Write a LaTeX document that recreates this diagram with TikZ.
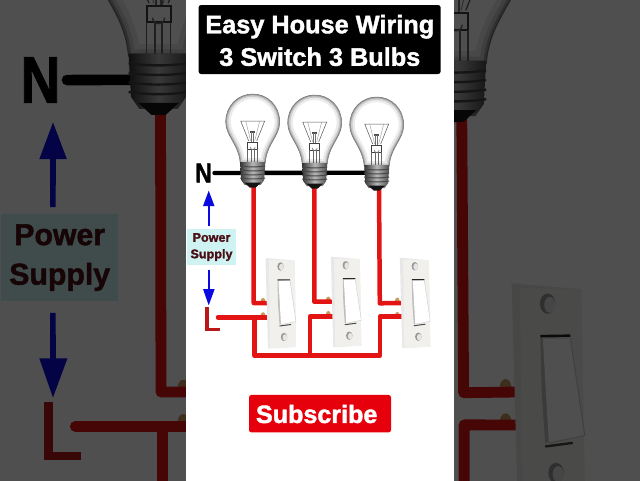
\documentclass[tikz,border=0pt]{standalone}
\usepackage{fontspec}
\setmainfont{Liberation Sans}
\newfontfamily\heavyfont[FakeBold=1.6]{Liberation Sans Bold}
\definecolor{wire}{HTML}{E21414}
\definecolor{lwire}{HTML}{B81818}
\definecolor{btnred}{HTML}{E6000C}
\definecolor{arrowblue}{HTML}{0A0AE0}
\definecolor{boxcyan}{HTML}{CFF3F3}
\definecolor{txtred}{HTML}{4A1016}
\definecolor{plate}{HTML}{F1F0EC}
\definecolor{brass}{HTML}{C89A5A}
\def\zm{1}
\tikzset{
  redwire/.style={draw=wire,line width=\zm*4.5pt,line join=round,line cap=round},
  neutral/.style={draw=black,line width=\zm*4.4pt,line cap=round},
  lshape/.style={draw=lwire,line width=\zm*3.6pt,line join=miter},
  bluearrow/.style={fill=arrowblue,draw=none},
  blueshaft/.style={draw=arrowblue,line width=\zm*2.3pt},
  fil/.style={draw=black!65,line width=\zm*0.5pt},
  labeltxt/.style={font=\heavyfont\fontsize{12.6}{16.5}\selectfont,text=txtred,align=center,transform shape,inner sep=0pt},
}
\newcommand{\glasspath}{(0,0) .. controls (15,0) and (27,12) .. (27,28) .. controls (27,42) and (14,50) .. (12.5,69) -- (-12.5,69) .. controls (-14,50) and (-27,42) .. (-27,28) .. controls (-27,12) and (-15,0) .. (0,0) -- cycle}
\newcommand{\bulb}[2]{%
  \begin{scope}[shift={(#1,#2)}]
    \fill[white] \glasspath;
    \begin{scope}
      \clip \glasspath;
      \draw[black!8,line width=\zm*10pt] \glasspath;
      \draw[black!20,line width=\zm*5.5pt] \glasspath;
      \draw[black!38,line width=\zm*2.4pt] \glasspath;
    \end{scope}
    \draw[black!55,line width=\zm*0.5pt] \glasspath;
    \draw[fil] (-12,27) -- (12,27) -- (4,47) (-12,27) -- (-4,47);
    \draw[black!40,line width=\zm*0.4pt] (-7,27) -- (-2,47) (7,27) -- (2,47);
    \fill[black!70] (-2.5,37) rectangle (2.5,38.5);
    \draw[black!55,line width=\zm*0.9pt] (-1.2,38) -- (-1.2,48) (1.2,38) -- (1.2,48);
    \draw[black!75,line width=\zm*0.8pt] (-5,48) rectangle (5,55);
    \draw[black!55,line width=\zm*0.6pt] (-2.5,53) arc (180:0:2.5);
    \draw[black!60,line width=\zm*0.7pt] (-5,55) -- (-5,69) (5,55) -- (5,69) (-1.5,55) -- (-1.5,69) (1.5,55) -- (1.5,69);
    \shade[left color=black!80,right color=black!70,middle color=black!28]
      (-12.5,68) -- (12.5,68) -- (11.5,86) -- (8,91) -- (-8,91) -- (-11.5,86) -- cycle;
    \foreach \ty in {72,76,80,84}
      \draw[black!72,line width=\zm*1pt] (-12.5,\ty) .. controls (-4,\ty+1.2) and (4,\ty+1.2) .. (12.5,\ty);
    \fill[black!92] (-8.5,88.5) -- (8.5,88.5) -- (3,93.5) -- (-3,93.5) -- cycle;
  \end{scope}}
\newcommand{\terminals}[2]{%
  \begin{scope}[shift={(#1,#2)}]
    \fill[brass] (-2,43.3) ellipse (2.4 and 3.4);
    \fill[brass] (-2,57.6) ellipse (2.4 and 3.4);
  \end{scope}}
\newcommand{\switchbody}[2]{%
  \begin{scope}[shift={(#1,#2)}]
    \fill[black!9] (0.5,0) -- (29.5,2.5) -- (31,89) -- (3,90.5) -- cycle;
    \fill[plate] (4,2) -- (29.5,2.5) -- (31,89) -- (5,90) -- cycle;
    \fill[black!40] (15.5,8.5) ellipse (3.2 and 4.2);
    \fill[black!10] (16.4,9) ellipse (2.3 and 3.3);
    \fill[black!40] (19,79) ellipse (3.2 and 4.2);
    \fill[black!10] (19.9,79.5) ellipse (2.3 and 3.3);
    \fill[black!25] (12.5,22) -- (25,23) -- (26,64) -- (14.5,66.5) -- (13,45) -- cycle;
    \fill[white] (13.5,23) -- (25,23) -- (31,63.5) -- (16,66.5) -- cycle;
    \draw[black!20,line width=\zm*0.4pt] (25,23) -- (31,63.5) -- (16,66.5);
    \draw[black!85,line width=\zm*1pt] (12.5,22) -- (25,21.8);
    \draw[black!70,line width=\zm*1pt] (14.5,68) -- (26,66.5);
  \end{scope}}
\newcommand{\scene}{%
  \coordinate (b1) at (253.5,185);
  \coordinate (b2) at (314.5,186);
  \coordinate (b3) at (379,187);
  \coordinate (s1a) at (267,303);
  \coordinate (s1b) at (267,317.3);
  \coordinate (s2a) at (331,301.7);
  \coordinate (s2b) at (332,316.5);
  \coordinate (s3a) at (401,303);
  \coordinate (s3b) at (402,316.7);
  \coordinate (j1) at (254.3,317.3);
  \coordinate (j2) at (310,355.3);
  \node[font=\heavyfont\fontsize{23}{23}\selectfont,transform shape,inner sep=0pt] (nlabel) at (203.5,173) {\scalebox{1}[1.19]{N}};
  \coordinate (bulbend) at (368,172.7);
  \draw[neutral] (nlabel.east) ++(2.5,0) coordinate (nstart) (nstart) -- (bulbend);
  \terminals{265}{258}
  \terminals{330.3}{256.7}
  \terminals{399.3}{257.7}
  \draw[redwire] (b1) -- (253.7,303) -- (s1a);
  \draw[redwire] (b2) -- (314.3,301.7) -- (s2a);
  \draw[redwire] (b3) -- (379.8,303.3) -- (s3a);
  \coordinate (lstart) at (218,317.3);
  \draw[redwire] (lstart) -- (j1) -- (s1b);
  \draw[redwire] (j1) -- (254.3,355.3) -- (j2) -- (380,355.3) -- (380,316.7) -- (s3b);
  \draw[redwire] (j2) -- (310,316.5) -- (s2b);
  \draw[lshape] (206.8,307) -- (206.8,329.6) -- (220.2,329.6);
  \node[fill=boxcyan,minimum width=49pt,minimum height=36pt,transform shape,inner sep=0pt] (pbox) at (211.5,247) {};
  \node[labeltxt] (ptext) at (211.5,247) {Power\\Supply};
  \coordinate (upbase) at (208.7,206);
  \coordinate (downbase) at (208.7,290);
  \draw[blueshaft] (208.7,226) -- (upbase);
  \fill[bluearrow] (208.7,190.7) -- (214.5,206) -- (203,206) -- cycle;
  \draw[blueshaft] (208.7,270) -- (downbase);
  \fill[bluearrow] (208.7,305.3) -- (214.7,289) -- (203,289) -- cycle;
  \bulb{252.7}{94}
  \bulb{314.7}{95}
  \bulb{376.7}{97}
  \switchbody{265}{258}
  \switchbody{330.3}{256.7}
  \switchbody{399.3}{257.7}
}
\begin{document}
\begin{tikzpicture}[x=1pt,y=-1pt]
  \useasboundingbox (0,0) rectangle (640,480);
  \fill[white] (-5,-5) rectangle (645,485);
  \begin{scope}[shift={(-447.9,-335.2)},scale=2.4]
    \def\zm{2.4}
    \scene
  \end{scope}
  \fill[black,opacity=0.69] (-5,-5) rectangle (645,700);
  \fill[white] (186,-5) rectangle (454,700);
  \scene
  \node[fill=black,rounded corners=2.5pt,minimum width=242pt,minimum height=69pt,inner sep=0pt] (titlebox) at (319.6,39.5) {};
  \node[text=white,font=\heavyfont\fontsize{25.3}{32.5}\selectfont,align=center,inner sep=0pt] (title) at (319.8,40.5) {Easy House Wiring\\3 Switch 3 Bulbs};
  \node[fill=btnred,rounded corners=2.5pt,minimum width=142pt,minimum height=37.5pt,inner sep=0pt] (subscribe) at (320,413.7) {};
  \node[text=white,font=\heavyfont\fontsize{25.1}{30}\selectfont,inner sep=0pt] (subtext) at (316.7,414) {Subscribe};
\end{tikzpicture}
\end{document}
